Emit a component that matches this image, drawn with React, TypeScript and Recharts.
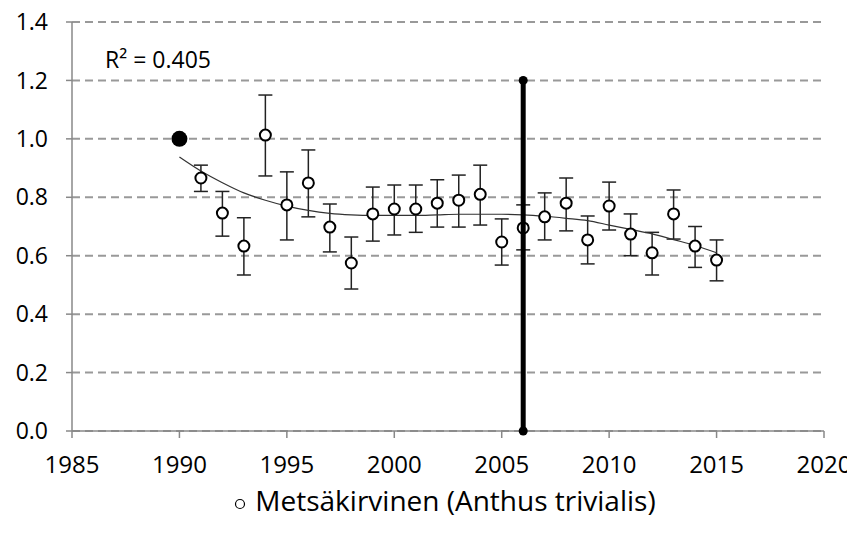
import { ComposedChart, Scatter, ErrorBar, XAxis, YAxis, CartesianGrid } from "recharts";

const years = [1991, 1992, 1993, 1994, 1995, 1996, 1997, 1998, 1999, 2000, 2001, 2002, 2003, 2004, 2005, 2006, 2007, 2008, 2009, 2010, 2011, 2012, 2013, 2014, 2015];
const index = [0.866, 0.746, 0.633, 1.013, 0.774, 0.849, 0.698, 0.575, 0.743, 0.76, 0.76, 0.78, 0.79, 0.81, 0.647, 0.695, 0.733, 0.78, 0.654, 0.77, 0.674, 0.61, 0.743, 0.633, 0.585];
const lower = [0.82, 0.667, 0.534, 0.873, 0.654, 0.733, 0.613, 0.486, 0.65, 0.671, 0.68, 0.698, 0.698, 0.705, 0.568, 0.62, 0.654, 0.685, 0.572, 0.688, 0.6, 0.534, 0.657, 0.56, 0.514];
const upper = [0.91, 0.82, 0.73, 1.15, 0.887, 0.962, 0.777, 0.664, 0.835, 0.842, 0.842, 0.86, 0.876, 0.91, 0.726, 0.774, 0.815, 0.866, 0.736, 0.852, 0.743, 0.68, 0.825, 0.70, 0.654];

const trendYears = [1990, 1991, 1992, 1993, 1994, 1995, 1996, 1997, 1998, 1999, 2000, 2001, 2002, 2003, 2004, 2005, 2006, 2007, 2008, 2009, 2010, 2011, 2012, 2013, 2014, 2015];
const trendValues = [0.938, 0.89, 0.85, 0.815, 0.79, 0.77, 0.755, 0.745, 0.74, 0.738, 0.738, 0.738, 0.74, 0.742, 0.742, 0.742, 0.74, 0.735, 0.728, 0.72, 0.705, 0.69, 0.675, 0.655, 0.635, 0.61];

const baseYear = [1990];
const baseValue = [1.0];

const markerYears = [2006, 2006];
const markerValues = [0, 1.2];

const xTicks = [1985, 1990, 1995, 2000, 2005, 2010, 2015, 2020];
const yTicks = [0, 0.2, 0.4, 0.6, 0.8, 1.0, 1.2, 1.4];

const points = years.map((x, i) => ({ x, y: index[i], err: [index[i] - lower[i], upper[i] - index[i]] }));
const trend = trendYears.map((x, i) => ({ x, y: trendValues[i] }));
const base = baseYear.map((x, i) => ({ x, y: baseValue[i] }));
const marker = markerYears.map((x, i) => ({ x, y: markerValues[i] }));

const FONT = "'Open Sans', 'Noto Sans', sans-serif";

const OpenDot = (props: any) => {
  const { cx, cy } = props;
  if (cx == null || cy == null) return <g />;
  return <circle cx={cx} cy={cy} r={5.5} fill="#fff" stroke="#000" strokeWidth={2} />;
};

const BigDot = (props: any) => {
  const { cx, cy } = props;
  if (cx == null || cy == null) return <g />;
  return <circle cx={cx} cy={cy} r={8} fill="#000" />;
};

const EndDot = (props: any) => {
  const { cx, cy } = props;
  if (cx == null || cy == null) return <g />;
  return <circle cx={cx} cy={cy} r={4.5} fill="#000" />;
};

const NoDot = () => <g />;

export default function App() {
  return (
    <div style={{ position: "relative", width: 855, height: 542, margin: -8, background: "#fff", fontFamily: FONT }}>
      <ComposedChart width={855} height={542} margin={{ top: 22, right: 31, bottom: 51, left: 8 }}>
        <CartesianGrid vertical={false} stroke="#999" strokeDasharray="8 5" strokeWidth={2} />
        <XAxis
          type="number"
          dataKey="x"
          domain={[1985, 2020]}
          ticks={xTicks}
          interval={0}
          height={60}
          tickSize={7}
          tickMargin={18}
          axisLine={{ stroke: "#888", strokeWidth: 1.5 }}
          tickLine={{ stroke: "#888", strokeWidth: 1.5 }}
          tick={{ fill: "#000", fontSize: 24, fontFamily: FONT }}
        />
        <YAxis
          type="number"
          dataKey="y"
          domain={[0, 1.4]}
          ticks={yTicks}
          interval={0}
          width={64}
          tickSize={6}
          tickMargin={18}
          tickFormatter={(v: number) => v.toFixed(1)}
          axisLine={{ stroke: "#888", strokeWidth: 1.5 }}
          tickLine={{ stroke: "#888", strokeWidth: 1.5 }}
          tick={{ fill: "#000", fontSize: 23, fontFamily: FONT }}
        />
        <Scatter
          data={trend}
          line={{ stroke: "#333", strokeWidth: 1.2 }}
          lineJointType="monotoneX"
          shape={NoDot}
          isAnimationActive={false}
        />
        <Scatter data={points} shape={OpenDot} isAnimationActive={false}>
          <ErrorBar dataKey="err" direction="y" width={7} stroke="#222" strokeWidth={1.5} />
        </Scatter>
        <Scatter data={base} shape={BigDot} isAnimationActive={false} />
        <Scatter
          data={marker}
          line={{ stroke: "#000", strokeWidth: 5 }}
          shape={EndDot}
          isAnimationActive={false}
        />
      </ComposedChart>
      <div style={{ position: "absolute", left: 105, top: 43, fontSize: 23, color: "#000" }}>
        R² = 0.405
      </div>
      <div
        style={{
          position: "absolute",
          left: 34,
          width: 821,
          top: 481,
          textAlign: "center",
          fontSize: 28,
          color: "#000",
          whiteSpace: "nowrap",
        }}
      >
        <svg width={14} height={14} style={{ marginRight: 8, verticalAlign: "middle" }}>
          <circle cx={7} cy={7} r={4.5} fill="#fff" stroke="#000" strokeWidth={1.2} />
        </svg>
        Metsäkirvinen (Anthus trivialis)
      </div>
    </div>
  );
}
